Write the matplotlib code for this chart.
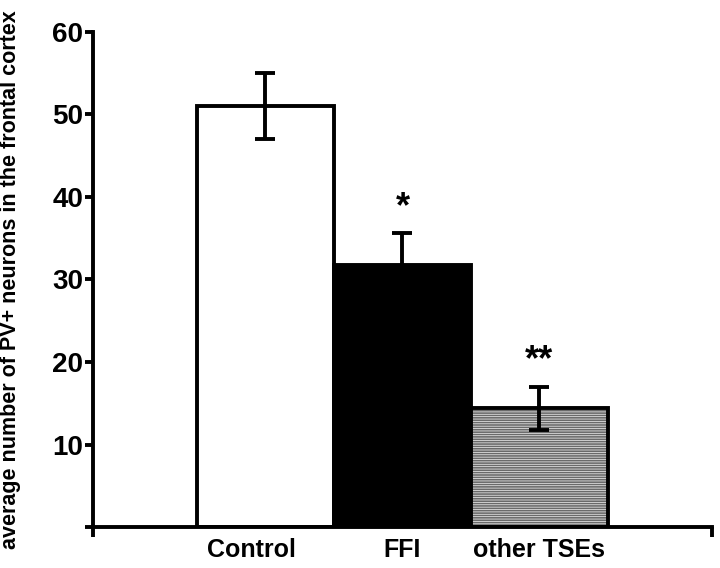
import matplotlib.pyplot as plt
import matplotlib.transforms as mtransforms
import numpy as np

plt.rcParams['font.family'] = ['Liberation Sans', 'DejaVu Sans']
plt.rcParams['hatch.linewidth'] = 1.2

# donnees
groupes = ['Control', 'FFI', 'other TSEs']
moyennes = [51.0, 31.7, 14.4]
erreurs = [4.0, 3.9, 2.6]
etoiles = ['', '*', '**']
yticks = [10, 20, 30, 40, 50, 60]

fig = plt.figure(figsize=(7.2, 5.68), dpi=100)
ax = fig.add_axes([0.129, 0.072, 0.860, 0.872])

x = np.arange(len(groupes))
lw = 2.8
bars = ax.bar(x, moyennes, width=1.0, edgecolor='black', linewidth=lw, zorder=2)
bars[0].set_facecolor('white')
bars[1].set_facecolor('black')
# barre hachuree : hachures grises puis contour noir par dessus
ax.bar(x[2], moyennes[2], width=1.0, facecolor='#f2f2f2', edgecolor='#6a6a6a',
       linewidth=0, hatch='-------', zorder=2.5)
bars[2].set_facecolor('none')
bars[2].set_zorder(2.6)

ax.errorbar(x, moyennes, yerr=erreurs, fmt='none', ecolor='black',
            elinewidth=lw, capsize=7, capthick=lw, zorder=3)

for xi, m, e, s in zip(x, moyennes, erreurs, etoiles):
    if s:
        ax.text(xi, m + e + 1.0, s, ha='center', va='bottom',
                fontsize=26, fontweight='bold')

ax.set_xlim(-1.26, 3.26)
ax.set_ylim(0, 60)
ax.set_yticks([0] + yticks)
ax.set_yticklabels([''] + [str(v) for v in yticks], fontsize=20, fontweight='bold')
ax.set_xticks(x)
ax.set_xticklabels(groupes, fontsize=18, fontweight='bold')
ax.tick_params(axis='x', which='major', length=0, pad=8)
ax.set_xticks([-1.26, 3.26], minor=True)
ax.tick_params(axis='x', which='minor', length=7, width=lw, direction='out')
ax.tick_params(axis='y', length=6, width=lw, direction='out', pad=1)

# decalage du label Control vers la gauche
lab = ax.get_xticklabels()[0]
lab.set_transform(lab.get_transform() + mtransforms.ScaledTranslation(-10/72, 0, fig.dpi_scale_trans))

for s in ['top', 'right']:
    ax.spines[s].set_visible(False)
for s in ['left', 'bottom']:
    ax.spines[s].set_linewidth(lw)

ax.set_ylabel('average number of PV+ neurons in the frontal cortex',
              fontsize=15.5, fontweight='bold')
ax.yaxis.set_label_coords(-0.116, 0.50)

fig.savefig('out.png', dpi=100)
